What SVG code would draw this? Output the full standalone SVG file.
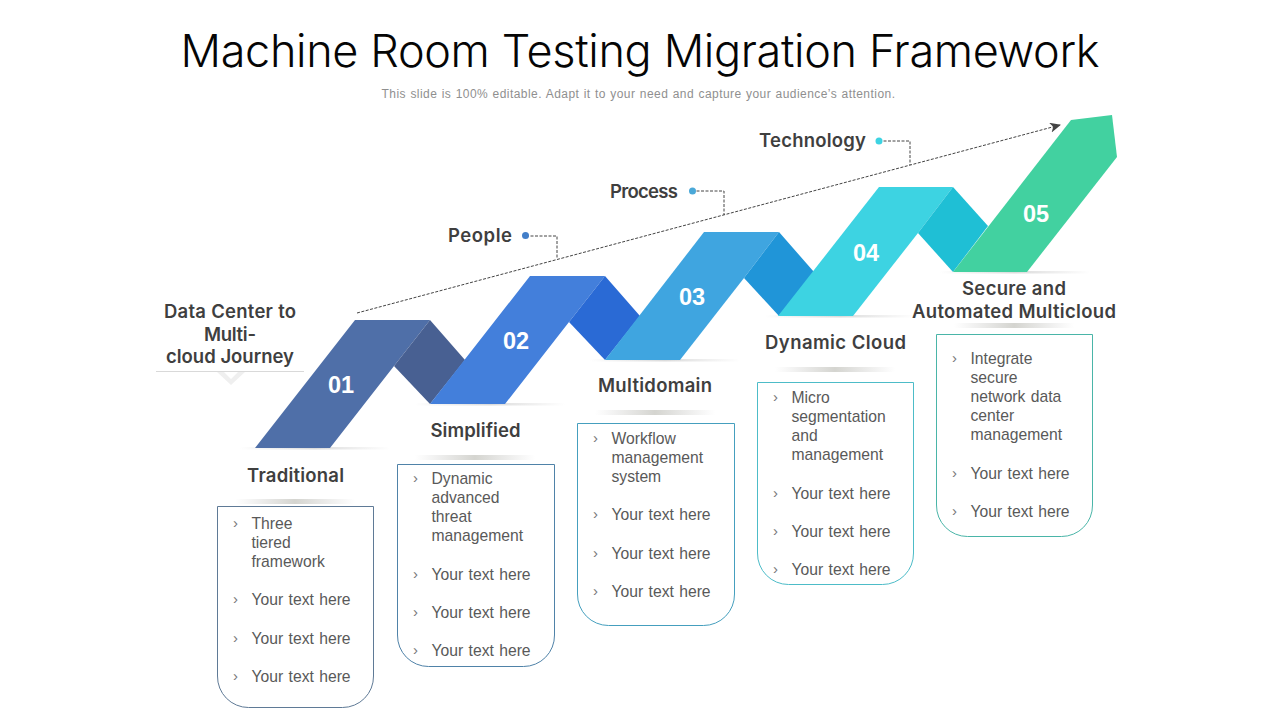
<svg xmlns="http://www.w3.org/2000/svg" width="1280" height="720" viewBox="0 0 1280 720">
<style>
text{font-family:"Inter","Lato",sans-serif;font-variant-ligatures:none}
.title{font-size:45px;font-weight:300;fill:#050505;text-anchor:middle}
.sub{font-family:"Liberation Sans",sans-serif;font-size:12px;fill:#8f8f8f;text-anchor:middle;letter-spacing:.45px;word-spacing:.6px}
.h{font-size:18.5px;font-weight:600;fill:#3f3f3f;text-anchor:middle}
.n{font-family:"Liberation Sans",sans-serif;font-size:23.500px;font-weight:700;fill:#fff;text-anchor:middle}
.b{font-family:"Liberation Sans",sans-serif;font-size:15.700px;fill:#595959;word-spacing:1px}
.c{font-family:"Liberation Sans",sans-serif;font-size:15px;fill:#777}
.d{fill:none;stroke:#444;stroke-width:1;stroke-dasharray:3 1.5}
.box{fill:#fff;stroke-width:1}
</style>
<defs>
<linearGradient id="sh"><stop offset="0" stop-color="#bbb" stop-opacity="0"/><stop offset=".5" stop-color="#b8b8b0" stop-opacity=".6"/><stop offset="1" stop-color="#bbb" stop-opacity="0"/></linearGradient>
<linearGradient id="bs"><stop offset="0" stop-color="#ccc" stop-opacity="0"/><stop offset=".5" stop-color="#ccc" stop-opacity=".7"/><stop offset="1" stop-color="#ccc" stop-opacity="0"/></linearGradient>
<marker id="ah" markerWidth="12" markerHeight="12" refX="10" refY="5" orient="auto" markerUnits="userSpaceOnUse"><path d="M0,0 L11,5 L0,10 L3,5 Z" fill="#444"/></marker>
</defs>
<rect width="1280" height="720" fill="#fff"/>
<text class="title" x="640" y="67" textLength="919">Machine Room Testing Migration Framework</text>
<text class="sub" x="638.500" y="98">This slide is 100% editable. Adapt it to your need and capture your audience’s attention.</text>

<g id="connectors">
<path class="d" d="M357,313 L1060,125" marker-end="url(#ah)"/>
<path class="d" d="M526,236 H557 V259"/>
<path class="d" d="M692,191 H724 V215"/>
<path class="d" d="M879,141 H910 V165"/>
</g>

<g id="step-01">
<rect x="240" y="447" width="150" height="2.500" fill="url(#bs)"/>
<path fill="#4f6fa8" d="M255,448 L330,448 L394,366 L430,320 L355,320 Z"/>
<path fill="#486092" d="M430,320 L465,360 L430,404 L394,366 Z"/>
<text class="n" x="341" y="393">01</text>
<text class="h" x="295.500" y="482" textLength="97">Traditional</text>
<rect x="235" y="499" width="120" height="5" fill="url(#sh)"/>
<path class="box" stroke="#5f7a96" d="M217.500,506.500 H373.500 V676 A31,31 0 0 1 342.500,707.500 H248.500 A31,31 0 0 1 217.500,676 Z"/>
<text class="c" x="233" y="528">›</text><text class="b" x="251.500" y="529">Three</text><text class="b" x="251.500" y="548">tiered</text><text class="b" x="251.500" y="567">framework</text>
<text class="c" x="233" y="604">›</text><text class="b" x="251.500" y="605">Your text here</text>
<text class="c" x="233" y="643">›</text><text class="b" x="251.500" y="644">Your text here</text>
<text class="c" x="233" y="681">›</text><text class="b" x="251.500" y="682">Your text here</text>
</g>

<g id="step-02">
<rect x="415" y="403" width="150" height="2.500" fill="url(#bs)"/>
<path fill="#437fdb" d="M430,404 L505,404 L569,322 L605,276 L530,276 Z"/>
<path fill="#2a6ad5" d="M605,276 L640,316 L605,360 L569,322 Z"/>
<text class="n" x="516" y="349">02</text>
<text class="h" x="475.500" y="437" textLength="90">Simplified</text>
<rect x="415" y="455" width="120" height="5" fill="url(#sh)"/>
<path class="box" stroke="#4f82a8" d="M397.500,464.500 H554.500 V635 A31,31 0 0 1 523.500,666.500 H428.500 A31,31 0 0 1 397.500,635 Z"/>
<text class="c" x="413" y="483">›</text><text class="b" x="431.500" y="484">Dynamic</text><text class="b" x="431.500" y="503">advanced</text><text class="b" x="431.500" y="522">threat</text><text class="b" x="431.500" y="541">management</text>
<text class="c" x="413" y="579">›</text><text class="b" x="431.500" y="580">Your text here</text>
<text class="c" x="413" y="617">›</text><text class="b" x="431.500" y="618">Your text here</text>
<text class="c" x="413" y="655">›</text><text class="b" x="431.500" y="656">Your text here</text>
</g>

<g id="step-03">
<rect x="590" y="359" width="150" height="2.500" fill="url(#bs)"/>
<path fill="#3fa5e0" d="M605,360 L680,360 L744,278 L779,232 L704,232 Z"/>
<path fill="#2095d8" d="M779,232 L814,272 L779,316 L744,278 Z"/>
<text class="n" x="692" y="305">03</text>
<text class="h" x="655" y="392" textLength="114">Multidomain</text>
<rect x="595" y="410" width="120" height="5" fill="url(#sh)"/>
<path class="box" stroke="#459fbe" d="M577.500,423.500 H734.500 V594 A31,31 0 0 1 703.500,625.500 H608.500 A31,31 0 0 1 577.500,594 Z"/>
<text class="c" x="593" y="443">›</text><text class="b" x="611.500" y="444">Workflow</text><text class="b" x="611.500" y="463">management</text><text class="b" x="611.500" y="482">system</text>
<text class="c" x="593" y="519">›</text><text class="b" x="611.500" y="520">Your text here</text>
<text class="c" x="593" y="558">›</text><text class="b" x="611.500" y="559">Your text here</text>
<text class="c" x="593" y="596">›</text><text class="b" x="611.500" y="597">Your text here</text>
</g>

<g id="step-04">
<rect x="765" y="315" width="150" height="2.500" fill="url(#bs)"/>
<path fill="#3dd3e2" d="M778,316 L853,316 L918,233 L953,187 L879,187 Z"/>
<path fill="#1fbfd5" d="M953,187 L988,226 L953,272 L918,233 Z"/>
<text class="n" x="866" y="261">04</text>
<text class="h" x="835.500" y="349" textLength="141">Dynamic Cloud</text>
<rect x="775" y="367" width="120" height="5" fill="url(#sh)"/>
<path class="box" stroke="#4dbcc8" d="M757.500,382.500 H913.500 V553 A31,31 0 0 1 882.500,584.500 H788.500 A31,31 0 0 1 757.500,553 Z"/>
<text class="c" x="773" y="402">›</text><text class="b" x="791.500" y="403">Micro</text><text class="b" x="791.500" y="422">segmentation</text><text class="b" x="791.500" y="441">and</text><text class="b" x="791.500" y="460">management</text>
<text class="c" x="773" y="498">›</text><text class="b" x="791.500" y="499">Your text here</text>
<text class="c" x="773" y="536">›</text><text class="b" x="791.500" y="537">Your text here</text>
<text class="c" x="773" y="574">›</text><text class="b" x="791.500" y="575">Your text here</text>
</g>

<g id="step-05">
<rect x="940" y="271" width="150" height="2.500" fill="url(#bs)"/>
<path fill="#42d1a0" d="M953,272 L1027,272 L1117,157 L1112,115 L1071,120 Z"/>
<text class="n" x="1036" y="222">05</text>
<text class="h" x="1014" y="295" textLength="104">Secure and</text>
<text class="h" x="1014" y="318" textLength="204">Automated Multicloud</text>
<rect x="954" y="323" width="120" height="5" fill="url(#sh)"/>
<path class="box" stroke="#4ab5a8" d="M936.500,334.500 H1092.500 V505 A31,31 0 0 1 1061.500,536.500 H967.500 A31,31 0 0 1 936.500,505 Z"/>
<text class="c" x="952" y="363">›</text><text class="b" x="970.500" y="364">Integrate</text><text class="b" x="970.500" y="383">secure</text><text class="b" x="970.500" y="402">network data</text><text class="b" x="970.500" y="421">center</text><text class="b" x="970.500" y="440">management</text>
<text class="c" x="952" y="478">›</text><text class="b" x="970.500" y="479">Your text here</text>
<text class="c" x="952" y="516">›</text><text class="b" x="970.500" y="517">Your text here</text>
</g>

<g id="journey">
<text class="h" x="230" y="318" textLength="132">Data Center to</text>
<text class="h" x="230" y="341" textLength="52">Multi-</text>
<text class="h" x="230" y="363" textLength="128">cloud Journey</text>
<path d="M156,371.500 H304" fill="none" stroke="#d9d9d9"/>
<path d="M217,372 L231,385 L245,372 H238 L231,379 L224,372 Z" fill="#efefef"/>
</g>

<g id="label-people"><text class="h" x="480" y="242" textLength="64">People</text><circle cx="525.500" cy="235.500" r="3.500" fill="#437fc9"/></g>
<g id="label-process"><text class="h" x="644" y="198" textLength="68">Process</text><circle cx="692.500" cy="191" r="3.500" fill="#4aa8d8"/></g>
<g id="label-technology"><text class="h" x="812.500" y="147" textLength="107">Technology</text><circle cx="879" cy="141" r="3.500" fill="#3dd3e2"/></g>
</svg>
